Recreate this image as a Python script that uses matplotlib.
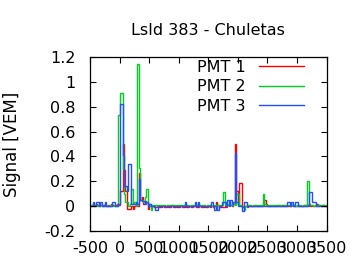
import numpy as np
import matplotlib
matplotlib.use("Agg")
import matplotlib.pyplot as plt

title = "LsId 383 - Chuletas"
ylabel = "Signal [VEM]"
labels = ["PMT 1", "PMT 2", "PMT 3"]
colors = ["#ff0000", "#00d020", "#2050ff"]
bin_start = -500
bin_width = 25
xticks = [-500, 0, 500, 1000, 1500, 2000, 2500, 3000, 3500]
yticks = [-0.2, 0, 0.2, 0.4, 0.6, 0.8, 1.0, 1.2]
ytick_labels = ["-0.2", "0", "0.2", "0.4", "0.6", "0.8", "1", "1.2"]

pmt1 = [
    0.01, 0.01, 0.0, 0.01, 0.02, 0.01, 0.0, 0.01, 0.0, 0.01, 0.02, 0.0, 0.01, 0.0, 0.02, 0.01, 0.0, 0.01, 0.02, 0.01,
    0.12, 0.12, 0.5, 0.29, 0.12, -0.02, -0.02, -0.02, 0.0, -0.02, 0.0, 0.02, 0.0, 0.27, 0.05, 0.07, 0.02, 0.04, 0.03, -0.02,
    0.02, -0.01, 0.0, -0.01, -0.01, 0.0, 0.0, -0.01, -0.01, 0.0, -0.01, -0.01, 0.0, -0.01, -0.01, 0.01, -0.01, -0.01, 0.0, -0.01,
    -0.01, 0.0, -0.01, -0.01, 0.01, -0.01, -0.01, 0.0, -0.01, -0.01, 0.0, 0.01, -0.01, -0.01, 0.0, -0.01, -0.01, 0.0, -0.01, -0.01,
    0.0, -0.01, 0.0, -0.01, 0.0, 0.03, 0.01, -0.01, -0.01, -0.01, -0.01, 0.0, -0.01, 0.01, 0.02, 0.01, 0.0, 0.02, 0.5, 0.12,
    0.02, 0.19, 0.19, -0.01, 0.0, 0.0, -0.01, 0.0, 0.0, 0.0, 0.0, 0.0, 0.0, 0.0, 0.0, 0.0, 0.0, 0.01, 0.05, 0.02,
    0.0, 0.0, 0.0, 0.0, 0.0, 0.01, 0.0, 0.01, 0.0, 0.0, 0.01, 0.0, 0.0, 0.0, 0.0, 0.0, 0.01, 0.0, 0.0, 0.0,
    0.0, 0.0, 0.0, 0.0, 0.0, 0.01, 0.0, 0.01, 0.02, 0.0, 0.01, 0.0, 0.0, 0.02, 0.0, 0.01, 0.0, 0.01, 0.0, 0.0,
]
pmt2 = [
    0.0, 0.01, 0.0, 0.0, 0.01, 0.0, 0.0, 0.01, 0.0, 0.0, 0.01, 0.0, 0.0, 0.01, 0.0, 0.0, 0.01, 0.0, 0.0, 0.73,
    0.91, 0.91, 0.3, 0.1, 0.03, 0.03, 0.0, 0.02, 0.14, 0.02, 0.03, 0.0, 1.14, 0.31, 0.05, 0.05, 0.03, 0.07, 0.14, 0.02,
    0.0, -0.03, 0.01, 0.01, 0.01, 0.0, 0.01, 0.01, 0.01, 0.01, 0.01, 0.0, 0.01, 0.01, 0.0, 0.01, 0.01, 0.01, 0.0, 0.01,
    0.01, 0.01, 0.0, 0.01, 0.01, 0.01, 0.01, 0.0, 0.01, 0.01, 0.01, 0.01, 0.01, 0.0, 0.01, 0.01, 0.01, 0.01, 0.0, 0.01,
    0.01, 0.01, 0.0, 0.01, 0.01, 0.01, 0.01, 0.0, 0.01, 0.01, 0.11, 0.01, 0.0, 0.01, 0.03, 0.01, 0.01, 0.02, 0.01, 0.1,
    0.1, 0.01, 0.0, 0.0, -0.03, 0.0, 0.01, 0.01, 0.01, 0.0, 0.01, 0.01, 0.01, 0.01, 0.0, 0.01, 0.01, 0.1, 0.02, 0.01,
    0.01, 0.0, 0.01, 0.01, 0.01, 0.0, 0.01, 0.01, 0.01, 0.01, 0.0, 0.01, 0.01, 0.01, 0.01, 0.0, 0.01, 0.01, 0.01, 0.0,
    0.01, 0.01, 0.01, 0.0, 0.01, 0.01, 0.01, 0.2, 0.01, 0.01, 0.01, 0.0, 0.01, 0.01, 0.01, 0.01, 0.0, 0.01, 0.01, 0.01,
]
pmt3 = [
    0.0, 0.0, 0.03, 0.0, 0.03, 0.03, 0.0, 0.03, 0.0, 0.0, 0.03, 0.0, 0.0, 0.0, 0.0, 0.03, 0.03, 0.0, 0.0, 0.02,
    0.82, 0.82, 0.41, 0.16, 0.16, 0.12, 0.34, 0.34, 0.02, 0.02, 0.02, 0.03, 0.02, 0.22, 0.05, 0.04, 0.04, 0.02, 0.03, 0.0,
    0.02, 0.0, 0.0, 0.0, -0.03, -0.03, 0.0, 0.0, 0.0, 0.0, 0.0, 0.0, 0.0, 0.0, 0.0, 0.0, 0.0, 0.0, 0.0, 0.0,
    0.0, 0.0, 0.0, 0.0, 0.03, 0.0, 0.0, 0.0, 0.0, 0.0, 0.0, 0.03, 0.0, 0.03, 0.0, 0.0, 0.0, 0.0, 0.0, 0.0,
    0.0, 0.0, 0.03, 0.0, -0.03, 0.0, -0.03, 0.0, 0.0, 0.03, 0.03, 0.03, 0.0, 0.05, 0.0, 0.05, 0.02, 0.03, 0.43, 0.03,
    0.0, 0.0, 0.0, -0.04, 0.03, 0.03, 0.0, 0.0, 0.0, 0.0, 0.0, 0.0, 0.0, 0.0, 0.0, 0.0, 0.0, 0.0, 0.0, 0.0,
    0.0, 0.0, 0.0, 0.0, 0.0, 0.0, 0.0, 0.0, 0.0, 0.0, 0.0, 0.0, 0.0, 0.03, 0.03, 0.0, 0.03, 0.0, 0.0, 0.03,
    0.03, 0.0, 0.0, 0.0, 0.0, 0.0, 0.0, 0.0, 0.11, 0.11, 0.03, 0.03, 0.03, 0.0, 0.0, 0.0, 0.0, 0.0, 0.0, 0.0,
]

plt.rcParams["font.family"] = ["DejaVu Sans"]
fig = plt.figure(figsize=(3.6, 2.7), dpi=100)
ax = fig.add_axes([0.25, 0.1444, 0.657, 0.6444])

series = [pmt1, pmt2, pmt3]
for vals, lab, col in zip(series, labels, colors):
    vals = np.asarray(vals)
    edges = bin_start + bin_width * np.arange(len(vals) + 1)
    ax.stairs(vals, edges, color=col, linewidth=1.0, label=lab, baseline=None)

ax.set_xlim(-500, 3500)
ax.set_ylim(-0.2, 1.2)
ax.set_xticks(xticks)
ax.set_xticklabels([str(t) for t in xticks])
ax.set_yticks(yticks)
ax.set_yticklabels(ytick_labels)
ax.tick_params(direction="in", top=True, right=True, length=4, width=0.8,
               labelsize=11.5, colors="black")
ax.tick_params(axis="y", pad=10.5)
ax.tick_params(axis="x", pad=7)
for sp in ax.spines.values():
    sp.set_linewidth(0.9)
ax.set_title(title, fontsize=11.5, pad=16)
ax.set_ylabel(ylabel, fontsize=12)
ax.yaxis.set_label_coords(-(90 - 21) / 236.5, 0.5)

leg = ax.legend(loc="upper right", bbox_to_anchor=((304 - 90) / 236.5, (231 - 60) / 174),
                markerfirst=False, frameon=False, fontsize=11.5, handlelength=2.8,
                handletextpad=0.85, borderaxespad=0, borderpad=0, labelspacing=0.28)

fig.savefig("out.png", dpi=100)
